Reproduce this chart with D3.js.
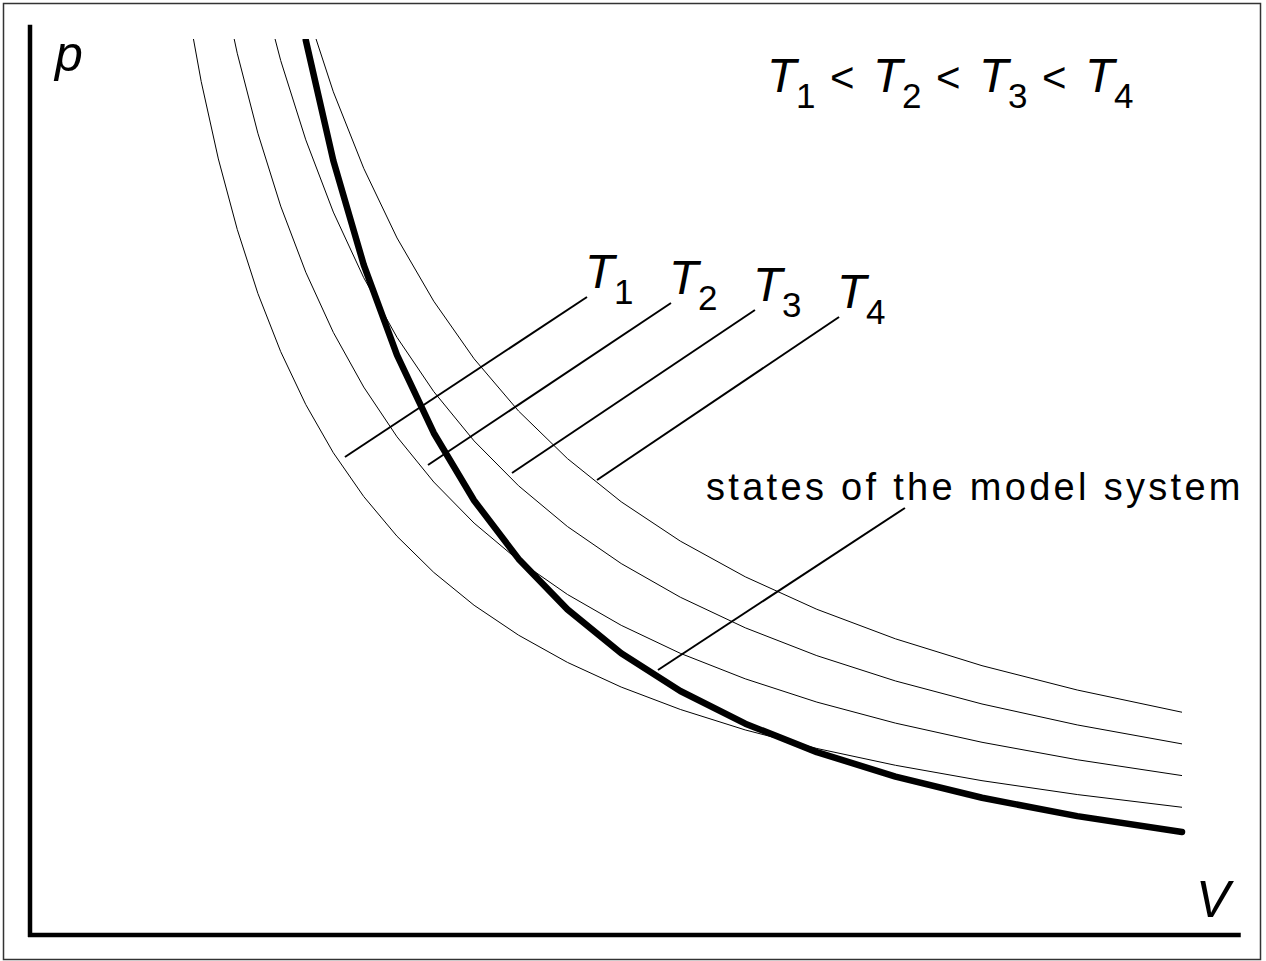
<!DOCTYPE html>
<html>
<head>
<meta charset="utf-8">
<script src="https://cdn.jsdelivr.net/npm/d3@7"></script>
<style>
	body { margin: 0; background: #fff; }
	svg { display: block; font-family: "Liberation Sans", Arial, sans-serif; }
</style>
</head>
<body>
<div id="chart"></div>
<script>
///////////////////////////////////////////////////////////////////////////
//////////////////////////// data /////////////////////////////////////////
///////////////////////////////////////////////////////////////////////////

// sampled volumes (each step is 1/1.1 of the previous one)
const volumes = [
	10.0, 9.091, 8.264, 7.513, 6.83, 6.209, 5.645, 5.132, 4.665, 4.241, 3.855,
	3.505, 3.186, 2.897, 2.633, 2.394, 2.176, 1.978, 1.799, 1.635, 1.486, 1.351
];

// isotherms, pressure at each sampled volume
const pT1 = [
	1.416, 1.558, 1.713, 1.885, 2.073, 2.28, 2.509, 2.759, 3.035, 3.339, 3.673,
	4.04, 4.444, 4.888, 5.377, 5.915, 6.507, 7.157, 7.873, 8.66, 9.526, 10.479
];
const pT2 = [
	1.77, 1.947, 2.142, 2.356, 2.591, 2.851, 3.136, 3.449, 3.794, 4.174, 4.591,
	5.05, 5.555, 6.111, 6.722, 7.394, 8.133, 8.947, 9.841, 10.825
];
const pT3 = [
	2.124, 2.336, 2.57, 2.827, 3.11, 3.421, 3.763, 4.139, 4.553, 5.008, 5.509,
	6.06, 6.666, 7.333, 8.066, 8.873, 9.76, 10.736
];
const pT4 = [
	2.478, 2.726, 2.998, 3.298, 3.628, 3.991, 4.39, 4.829, 5.312, 5.843, 6.427,
	7.07, 7.777, 8.555, 9.41, 10.351
];
const isotherms = [pT1, pT2, pT3, pT4];
const isoNames = ["1", "2", "3", "4"];

// states of the model system (thick line)
const pModel = [
	1.14, 1.317, 1.522, 1.759, 2.032, 2.35, 2.715, 3.137, 3.627, 4.191, 4.844,
	5.598, 6.469, 7.477, 8.641, 9.987
];

// label pointers: [V start, p start, V end, p end]
const pointers = [
	[2.734, 5.33, 4.835, 7.117],
	[3.455, 5.24, 5.564, 7.05],
	[4.184, 5.151, 6.293, 6.972],
	[4.922, 5.073, 7.023, 6.894]
];
const modelPointer = [5.451, 2.95, 7.595, 4.76];
const modelLabel = "states of the model system";

///////////////////////////////////////////////////////////////////////////
//////////////////////////// set up svg ///////////////////////////////////
///////////////////////////////////////////////////////////////////////////

const width = 1266;
const height = 961;
const svg = d3
	.select("#chart")
	.append("svg")
	.attr("width", width)
	.attr("height", height);

const xScale = d3.scaleLinear().domain([0, 10]).range([30, 1182]);
const yScale = d3.scaleLinear().domain([0, 10]).range([934, 39]);

// outer frame
svg
	.append("rect")
	.attr("x", 3.5)
	.attr("y", 3.5)
	.attr("width", 1257)
	.attr("height", 956)
	.attr("fill", "none")
	.attr("stroke", "#333")
	.attr("stroke-width", 1.5);

// curves are cut at the top of the plot
svg
	.append("clipPath")
	.attr("id", "plot-clip")
	.append("rect")
	.attr("x", xScale(0))
	.attr("y", yScale(10))
	.attr("width", xScale(10.6) - xScale(0))
	.attr("height", yScale(0) - yScale(10));

///////////////////////////////////////////////////////////////////////////
//////////////////////////// axes /////////////////////////////////////////
///////////////////////////////////////////////////////////////////////////

svg
	.append("line")
	.attr("x1", xScale(0))
	.attr("x2", xScale(0))
	.attr("y1", yScale(0) + 3)
	.attr("y2", yScale(10.16))
	.attr("stroke", "#000")
	.attr("stroke-width", 4.5);

svg
	.append("line")
	.attr("x1", xScale(0) - 2)
	.attr("x2", xScale(10.51))
	.attr("y1", yScale(0) + 1)
	.attr("y2", yScale(0) + 1)
	.attr("stroke", "#000")
	.attr("stroke-width", 4.5);

svg
	.append("text")
	.attr("x", 55)
	.attr("y", 71)
	.style("font-size", "50px")
	.style("font-style", "italic")
	.text("p");

svg
	.append("text")
	.attr("x", 1196)
	.attr("y", 917)
	.style("font-size", "51px")
	.style("font-style", "italic")
	.text("V");

///////////////////////////////////////////////////////////////////////////
//////////////////////////// plot /////////////////////////////////////////
///////////////////////////////////////////////////////////////////////////

const line = d3
	.line()
	.x((d, i) => xScale(volumes[i]))
	.y((d) => yScale(d));

const plot = svg.append("g").attr("clip-path", "url(#plot-clip)");

plot
	.selectAll(".isotherm")
	.data(isotherms)
	.enter()
	.append("path")
	.attr("class", "isotherm")
	.attr("d", line)
	.attr("fill", "none")
	.attr("stroke", "#000")
	.attr("stroke-width", 1);

plot
	.append("path")
	.datum(pModel)
	.attr("d", line)
	.attr("fill", "none")
	.attr("stroke", "#000")
	.attr("stroke-width", 6.5)
	.attr("stroke-linecap", "round")
	.attr("stroke-linejoin", "round");

///////////////////////////////////////////////////////////////////////////
//////////////////////////// labels ///////////////////////////////////////
///////////////////////////////////////////////////////////////////////////

svg
	.selectAll(".pointer")
	.data(pointers.concat([modelPointer]))
	.enter()
	.append("line")
	.attr("class", "pointer")
	.attr("x1", (d) => xScale(d[0]))
	.attr("y1", (d) => yScale(d[1]))
	.attr("x2", (d) => xScale(d[2]))
	.attr("y2", (d) => yScale(d[3]))
	.attr("stroke", "#000")
	.attr("stroke-width", 2);

// T labels at the upper end of each pointer
const tLabels = svg
	.selectAll(".tlabel")
	.data(pointers)
	.enter()
	.append("g")
	.attr("class", "tlabel")
	.attr("transform", (d) => `translate(${xScale(d[2]) - 2}, ${yScale(d[3]) - 9})`);

tLabels
	.append("text")
	.style("font-size", "48px")
	.style("font-style", "italic")
	.text("T");

tLabels
	.append("text")
	.attr("x", 29)
	.attr("y", 16)
	.style("font-size", "35px")
	.text((d, i) => isoNames[i]);

// T1 < T2 < T3 < T4
const orderX = 767;
const orderStep = 106;
const orderY = 92;

const order = svg
	.selectAll(".order")
	.data(isoNames)
	.enter()
	.append("g")
	.attr("class", "order")
	.attr("transform", (d, i) => `translate(${orderX + i * orderStep}, ${orderY})`);

order
	.append("text")
	.style("font-size", "48px")
	.style("font-style", "italic")
	.text("T");

order
	.append("text")
	.attr("x", 29)
	.attr("y", 16)
	.style("font-size", "35px")
	.text((d) => d);

order
	.filter((d, i) => i < isoNames.length - 1)
	.append("text")
	.attr("x", 63)
	.attr("y", 0)
	.style("font-size", "42px")
	.text("<");

svg
	.append("text")
	.attr("x", 706)
	.attr("y", 500)
	.style("font-size", "38px")
	.style("letter-spacing", "3.3px")
	.text(modelLabel);
</script>
</body>
</html>
